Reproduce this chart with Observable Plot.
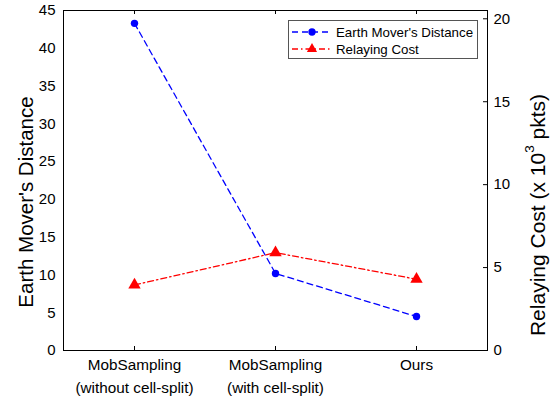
<!DOCTYPE html>
<html>
<head>
<meta charset="utf-8">
<script src="https://cdn.jsdelivr.net/npm/d3@7"></script>
<script src="https://cdn.jsdelivr.net/npm/@observablehq/plot@0.6"></script>
<style>
  html, body { margin: 0; padding: 0; background: #fff; }
  #chart { position: relative; width: 556px; height: 397px; font-family: "Liberation Sans", Arial, Helvetica, sans-serif; }
  #legend { position: absolute; left: 288px; top: 20px; }
</style>
</head>
<body>
<div id="chart"></div>
<script>
// Methods compared, left-to-right on the x axis
const methods = ["MobSampling\n(without cell-split)", "MobSampling\n(with cell-split)", "Ours"];
// Earth Mover's Distance per method (left axis)
const emd = [43.3, 10.2, 4.5];
// Relaying cost per method, in thousands of packets (right axis)
const relayCost = [3.95, 5.9, 4.3];
// Axis ticks
const emdTicks = [0, 5, 10, 15, 20, 25, 30, 35, 40, 45];
const costTicks = [0, 5, 10, 15, 20];
// Series names for the legend
const seriesNames = ["Earth Mover's Distance", "Relaying Cost"];

const emdMax = 45;
const costMax = 20.5;
const blue = "#0000ff";
const red = "#ff0000";

const W = 556, H = 397;
const mL = 63, mR = 69, mT = 10, mB = 47;
const innerW = W - mL - mR;
const innerH = H - mT - mB;

// map a relaying-cost value onto the shared (left) y scale
const toLeft = v => v * emdMax / costMax;

const emdRows = methods.map((m, i) => ({m, v: emd[i]}));
const costRows = methods.map((m, i) => ({m, v: toLeft(relayCost[i])}));

const plot = Plot.plot({
  width: W,
  height: H,
  marginLeft: mL,
  marginRight: mR,
  marginTop: mT,
  marginBottom: mB,
  style: {fontFamily: "'Liberation Sans', Arial, Helvetica, sans-serif", fontSize: "15px", color: "#000", background: "#fff", overflow: "visible"},
  x: {type: "point", domain: methods, padding: 0.5},
  y: {domain: [0, emdMax]},
  marks: [
    Plot.axisY(emdTicks, {anchor: "left", tickSize: 0, tickPadding: 8, label: null, fontSize: 15}),
    Plot.axisY(costTicks.map(toLeft), {anchor: "right", tickSize: 0, tickPadding: 6, label: null, fontSize: 15,
      tickFormat: d => String(Math.round(d * costMax / emdMax))}),
    // inward ticks on the right axis
    Plot.ruleY(costTicks.map(toLeft), {insetLeft: innerW - 4, stroke: "#000"}),
    Plot.axisX({anchor: "bottom", tickSize: 0, tickPadding: 3, label: null, fontSize: 15.3, lineHeight: 1.5}),
    // inward ticks on bottom and top edges
    Plot.ruleX(methods, {x: d => d, insetTop: innerH - 4, stroke: "#000"}),
    Plot.ruleX(methods, {x: d => d, insetBottom: innerH - 4, stroke: "#000"}),
    Plot.frame({stroke: "#000"}),
    Plot.line(emdRows, {x: "m", y: "v", stroke: blue, strokeWidth: 1.3, strokeDasharray: "6,4"}),
    Plot.dot(emdRows, {x: "m", y: "v", r: 3.7, fill: blue, stroke: "none"}),
    Plot.line(costRows, {x: "m", y: "v", stroke: red, strokeWidth: 1.3, strokeDasharray: "6,3,1.5,3"}),
    Plot.dot(costRows, {x: "m", y: "v", symbol: "triangle", r: 4.6, fill: red, stroke: "none"})
  ]
});

document.getElementById("chart").appendChild(plot);

// axis titles
const svg = d3.select(plot);
svg.append("text")
  .attr("transform", `translate(25,${mT + innerH / 2 + 22}) rotate(-90)`)
  .attr("text-anchor", "middle")
  .attr("dominant-baseline", "central")
  .attr("font-size", 20.5)
  .attr("fill", "#000")
  .text("Earth Mover's Distance");

const rt = svg.append("text")
  .attr("transform", `translate(537,${mT + innerH / 2 + 35}) rotate(-90)`)
  .attr("text-anchor", "middle")
  .attr("dominant-baseline", "central")
  .attr("font-size", 21)
  .attr("fill", "#000");
rt.append("tspan").text("Relaying Cost (x 10");
rt.append("tspan").attr("font-size", 13.5).attr("dy", -8).text("3");
rt.append("tspan").attr("dy", 8).text(" pkts)");

// legend
const lg = d3.select("#chart").append("svg")
  .attr("id", "legend")
  .attr("width", 190).attr("height", 39);
lg.append("rect").attr("x", 0.5).attr("y", 0.5).attr("width", 189).attr("height", 38)
  .attr("fill", "#fff").attr("stroke", "#555");
const entries = [
  {name: seriesNames[0], color: blue, dash: "6,4", symbol: d3.symbolCircle, size: 42},
  {name: seriesNames[1], color: red, dash: "6,3,1.5,3", symbol: d3.symbolTriangle, size: 45}
];
entries.forEach((e, i) => {
  const y = 12 + i * 17;
  lg.append("line").attr("x1", 4).attr("x2", 44).attr("y1", y).attr("y2", y)
    .attr("stroke", e.color).attr("stroke-width", 1.3).attr("stroke-dasharray", e.dash);
  lg.append("path").attr("d", d3.symbol(e.symbol, e.size)())
    .attr("transform", `translate(24,${y})`).attr("fill", e.color);
  lg.append("text").attr("x", 48).attr("y", y).attr("dominant-baseline", "central")
    .attr("font-size", 13.3).attr("font-family", "'Liberation Sans', Arial, sans-serif").text(e.name);
});
</script>
</body>
</html>
